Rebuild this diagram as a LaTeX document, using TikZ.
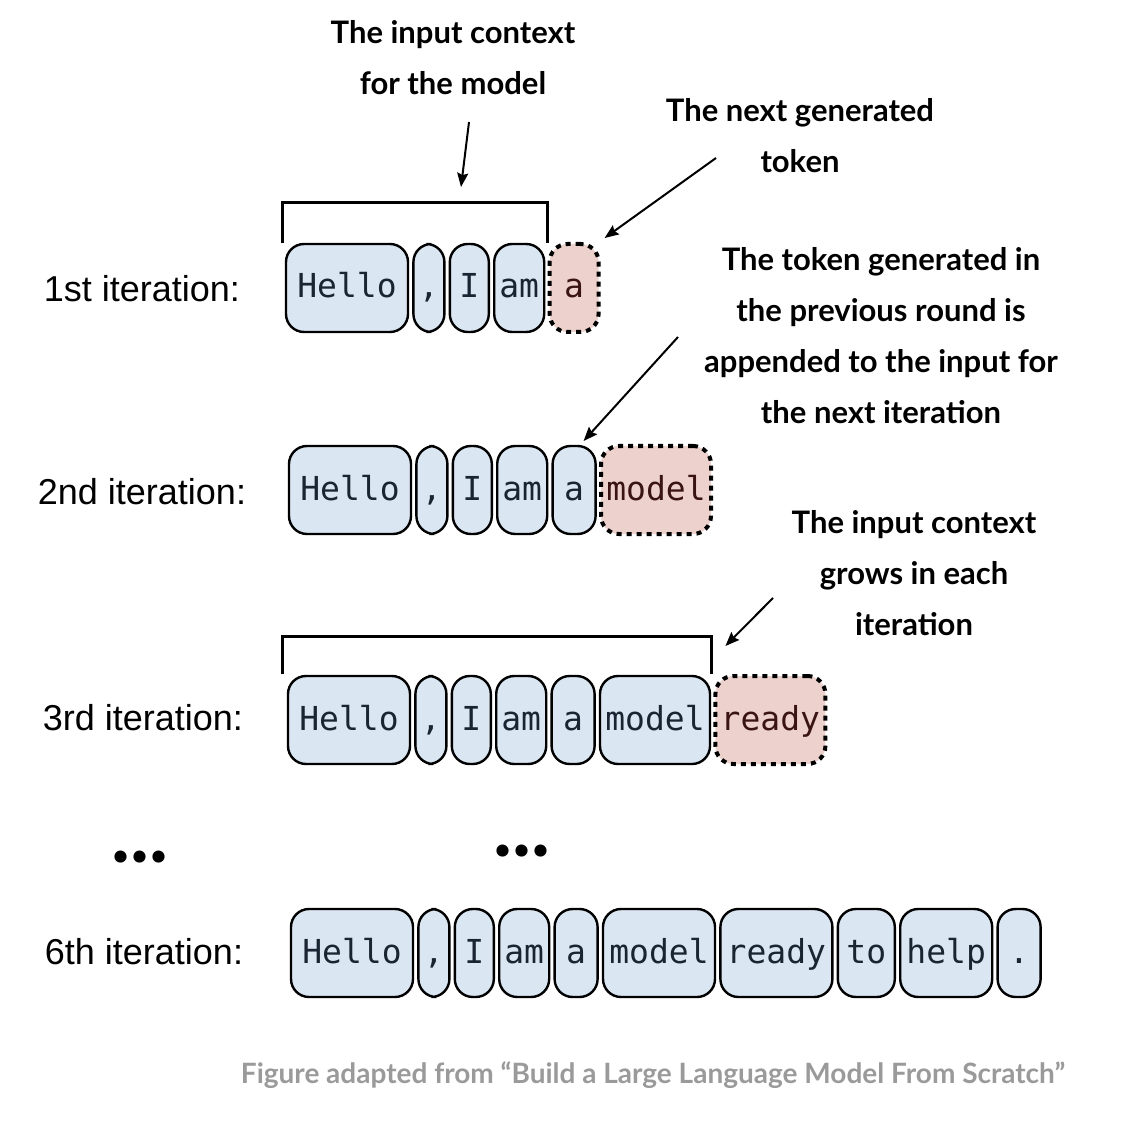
\documentclass[tikz,border=0pt]{standalone}
\usepackage{fontspec}
\setmainfont{Liberation Sans}
\newfontfamily\tokfont{DejaVu Sans Mono}
\newfontfamily\notefont{Lato}
\usetikzlibrary{positioning, arrows.meta}

\definecolor{tokblue}{HTML}{DAE6F2}
\definecolor{tokred}{HTML}{EDD1CC}
\definecolor{tokink}{HTML}{1B2433}
\definecolor{newink}{HTML}{3A1414}
\definecolor{footgray}{HTML}{9A9A9A}

\begin{document}
\begin{tikzpicture}[
        x=0.5pt, y=-0.5pt,
        >={Stealth[length=7pt, width=5.5pt, inset=1pt]},
        tok/.style={draw, line width=1.2pt, rounded corners=9pt, fill=tokblue, text=tokink,
                    minimum height=44pt, inner sep=0pt, outer sep=0pt,
                    text height=11pt, text depth=1pt,
                    font=\tokfont\fontsize{16.5}{16.5}\selectfont},
        newtok/.style={tok, fill=tokred, text=newink, line width=2pt,
                       dash pattern=on 2.5pt off 2.5pt},
        tw/.style={minimum width=#1*0.5pt},
        iter/.style={font=\fontsize{18}{18}\selectfont},
        note/.style={align=center, font=\notefont\bfseries\fontsize{15.5}{25.5}\selectfont},
        dots/.style={font=\notefont\bfseries\fontsize{40}{40}\selectfont, inner sep=0pt},
        bracket/.style={line width=1.5pt},
        pointer/.style={->, line width=1pt},
        node distance=2.7pt,
    ]
        \useasboundingbox (0,0) rectangle (1128,1122);

        % row 1: first iteration
        \node[iter] (L1) at (142,289) {1st iteration:};
        \node[tok, tw=122, anchor=west] (h1) at (286,288) {Hello};
        \node[tok, tw=31, right=of h1]  (c1)  {,};
        \node[tok, tw=39, right=of c1]  (i1)  {I};
        \node[tok, tw=50, right=of i1]  (am1) {am};
        \node[newtok, tw=49, right=of am1] (a1) {a};

        % row 2: second iteration
        \node[iter] (L2) at (142,492) {2nd iteration:};
        \node[tok, tw=122, anchor=west] (h2) at (289,490) {Hello};
        \node[tok, tw=31, right=of h2]  (c2)  {,};
        \node[tok, tw=39, right=of c2]  (i2)  {I};
        \node[tok, tw=50, right=of i2]  (am2) {am};
        \node[tok, tw=43, right=of am2] (a2)  {a};
        \node[newtok, tw=110, right=of a2] (m2) {model};

        % row 3: third iteration
        \node[iter] (L3) at (143,718) {3rd iteration:};
        \node[tok, tw=122, anchor=west] (h3) at (288,720) {Hello};
        \node[tok, tw=31, right=of h3]  (c3)  {,};
        \node[tok, tw=39, right=of c3]  (i3)  {I};
        \node[tok, tw=50, right=of i3]  (am3) {am};
        \node[tok, tw=43, right=of am3] (a3)  {a};
        \node[tok, tw=110, right=of a3] (m3)  {model};
        \node[newtok, tw=110, right=of m3] (r3) {ready};

        % skipped iterations
        \node[dots] (d1) at (140,857) {...};
        \node[dots] (d2) at (522,851) {...};

        % row 4: sixth iteration
        \node[iter] (L6) at (144,952) {6th iteration:};
        \node[tok, tw=122, anchor=west] (h6) at (291,953) {Hello};
        \node[tok, tw=31, right=of h6]  (c6)  {,};
        \node[tok, tw=39, right=of c6]  (i6)  {I};
        \node[tok, tw=50, right=of i6]  (am6) {am};
        \node[tok, tw=43, right=of am6] (a6)  {a};
        \node[tok, tw=112, right=of a6] (m6)  {model};
        \node[tok, tw=112, right=of m6] (r6)  {ready};
        \node[tok, tw=57, right=of r6]  (t6)  {to};
        \node[tok, tw=92, right=of t6]  (p6)  {help};
        \node[tok, tw=43, right=of p6]  (s6)  {.};

        % brackets over the input context
        \draw[bracket] ([xshift=-2pt, yshift=0.5pt]h1.north west) -- ++(0,20pt)
            -| ([xshift=1.8pt, yshift=0.5pt]am1.north east);
        \draw[bracket] ([xshift=-3pt, yshift=1pt]h3.north west) -- ++(0,19pt)
            -| ([xshift=0.5pt, yshift=1pt]m3.north east);

        % annotations
        \node[note] (n1) at (453,58)  {The input context\\for the model};
        \node[note] (n2) at (800,136) {The next generated\\token};
        \node[note] (n3) at (881,336) {The token generated in\\the previous round is\\appended to the input for\\the next iteration};
        \node[note] (n4) at (914,573) {The input context\\grows in each\\iteration};

        \coordinate (p1) at (469,122);
        \coordinate (q1) at (461,187);
        \coordinate (p2) at (716,158);
        \coordinate (p3) at (678,337);
        \coordinate (p4) at (773,598);

        \draw[pointer] (p1) -- (q1);
        \draw[pointer] (p2) -- ([xshift=3pt, yshift=3pt]a1.north east);
        \draw[pointer] (p3) -- ([xshift=-6pt, yshift=2.5pt]a2.north east);
        \draw[pointer] (p4) -- ([xshift=5pt, yshift=15pt]r3.north west);

        % source line
        \node[font=\notefont\bfseries\fontsize{14}{14}\selectfont, text=footgray] (src) at (653,1075)
            {Figure adapted from “Build a Large Language Model From Scratch”};
    \end{tikzpicture}
\end{document}
